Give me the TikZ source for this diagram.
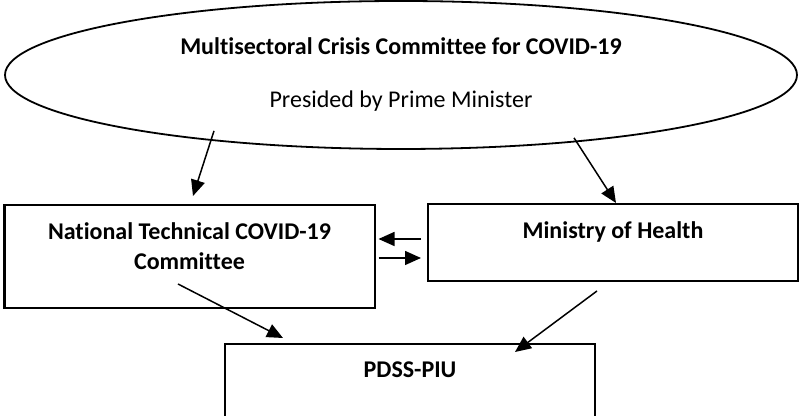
\documentclass[tikz,border=0pt]{standalone}
\usepackage{fontspec}
\setmainfont{Carlito}[Ligatures=NoCommon]
\usetikzlibrary{arrows.meta,positioning,shapes.geometric}
\tikzset{
  crisisshape/.style={ellipse,draw=black,line width=0.9pt,minimum width=396pt,
                      minimum height=74pt,inner sep=0pt,align=center,
                      font=\fontsize{12}{15}\selectfont},
  orgbox/.style={draw=black,line width=1pt,minimum width=185pt,inner sep=0pt},
  boxtext/.style={font=\fontsize{12}{15}\selectfont\bfseries,align=center,inner sep=0pt},
  arrow/.style={-{Triangle[length=8pt,width=7pt]},line width=0.75pt}
}

\begin{document}
\begin{tikzpicture}[x=0.5pt,y=0.5pt]
\useasboundingbox (0,0) rectangle (800,416);
\clip (0,0) rectangle (800,416);
% committee on top
\node[crisisshape] (crisis) at (401,341)
  {\textbf{Multisectoral Crisis Committee for COVID-19}\\[11.5pt]Presided by Prime Minister};
% the three boxes
\node[orgbox,minimum height=51.5pt] (ntc) at (189.5,159.5) {};
\node[orgbox,minimum height=38.5pt] (moh) at (613,173.5) {};
\node[orgbox,minimum height=41pt] (piu) at (410,31) {};
\node[boxtext,below=9pt of ntc.north] (ntctxt) {National Technical COVID-19\\Committee};
\node[boxtext,below=9pt of moh.north] (mohtxt) {Ministry of Health};
\node[boxtext,below=9pt of piu.north] (piutxt) {PDSS-PIU};
% links
\draw[arrow] ([xshift=-93.5pt,yshift=9.5pt]crisis.south) -- ([xshift=1.75pt,yshift=4pt]ntc.north);
\draw[arrow] ([xshift=86.5pt,yshift=6pt]crisis.south) -- ([xshift=1.5pt]moh.north);
\draw[arrow] ([xshift=-3pt,yshift=1.75pt]moh.west) -- ([xshift=1.5pt,yshift=8.75pt]ntc.east);
\draw[arrow] ([xshift=1.5pt,yshift=-0.75pt]ntc.east) -- ([xshift=-3pt,yshift=-7.75pt]moh.west);
\draw[arrow] ([xshift=-5.75pt,yshift=12.5pt]ntc.south) -- ([xshift=-63.5pt,yshift=2.5pt]piu.north);
\draw[arrow] ([xshift=-8pt,yshift=-4.5pt]moh.south) -- ([xshift=52.5pt,yshift=-4.5pt]piu.north);
\end{tikzpicture}
\end{document}
